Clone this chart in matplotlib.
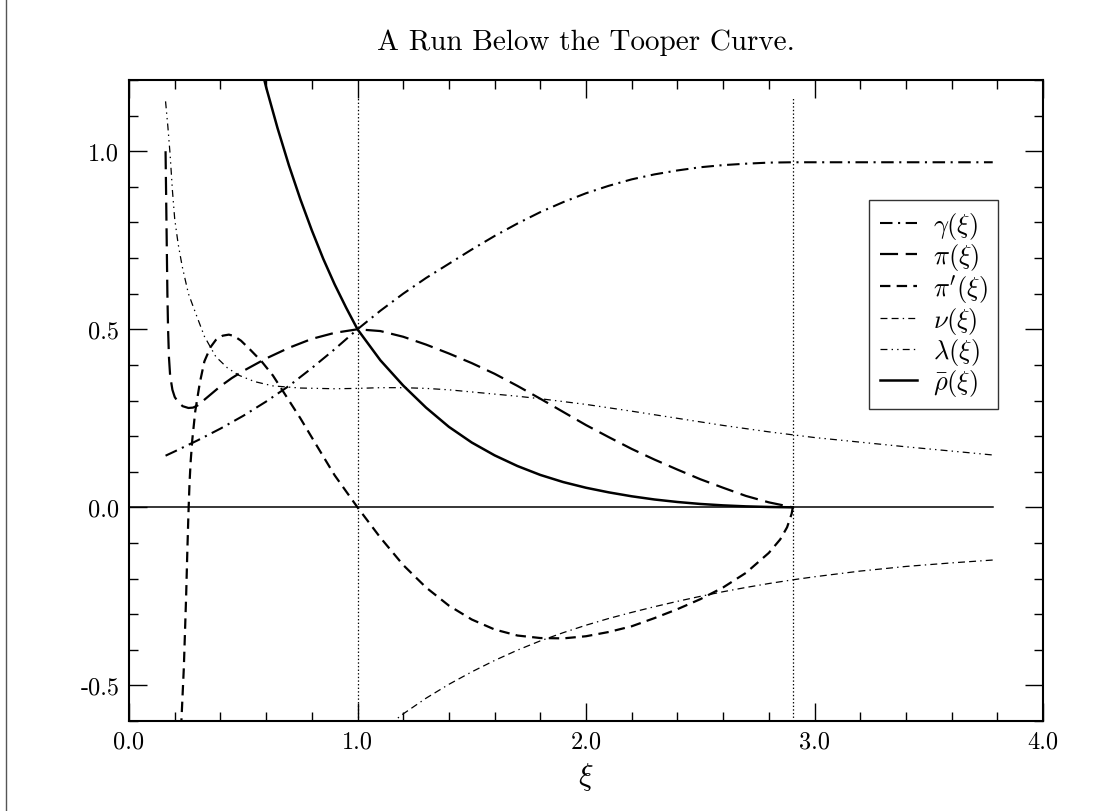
import matplotlib
matplotlib.use("Agg")
import matplotlib.pyplot as plt
from matplotlib.lines import Line2D
from matplotlib.ticker import MultipleLocator, FormatStrFormatter

plt.rcParams['font.family'] = ['cmr10', 'DejaVu Serif']
plt.rcParams['mathtext.fontset'] = 'cm'
plt.rcParams['axes.unicode_minus'] = False
plt.rcParams['lines.scale_dashes'] = False

# ---- data -------------------------------------------------------------
title = "A Run Below the Tooper Curve."
xlabel = r"$\xi$"
x_ticks = [0.0, 1.0, 2.0, 3.0, 4.0]
y_ticks = [-0.5, 0.0, 0.5, 1.0]

labels = [r"$\gamma(\xi)$", r"$\pi(\xi)$", r"$\pi'(\xi)$",
          r"$\nu(\xi)$", r"$\lambda(\xi)$", r"$\bar{\rho}(\xi)$"]

xi_gamma = [0.16, 0.2, 0.3, 0.4, 0.5, 0.6, 0.7, 0.8, 0.9, 1.0, 1.1, 1.2, 1.3,
            1.4, 1.5, 1.6, 1.7, 1.8, 1.9, 2.0, 2.1, 2.2, 2.3, 2.4, 2.5, 2.6,
            2.7, 2.8, 2.905, 3.78]
gamma = [0.145, 0.157, 0.188, 0.221, 0.257, 0.297, 0.341, 0.391, 0.444, 0.500,
         0.552, 0.600, 0.644, 0.684, 0.724, 0.762, 0.797, 0.829, 0.857, 0.882,
         0.903, 0.921, 0.935, 0.946, 0.955, 0.961, 0.965, 0.968, 0.969, 0.969]

xi_pi = [0.160, 0.162, 0.164, 0.166, 0.168, 0.171, 0.175, 0.180, 0.190, 0.200,
         0.215, 0.235, 0.26, 0.28, 0.30, 0.35, 0.40, 0.45, 0.50, 0.6, 0.7,
         0.8, 0.9, 1.0, 1.1, 1.2, 1.3, 1.4, 1.5, 1.6, 1.7, 1.8, 1.9, 2.0,
         2.1, 2.2, 2.3, 2.4, 2.5, 2.6, 2.7, 2.8, 2.905]
pi = [1.000, 0.90, 0.80, 0.70, 0.60, 0.50, 0.42, 0.37, 0.33, 0.31,
      0.295, 0.284, 0.279, 0.280, 0.286, 0.313, 0.340, 0.363, 0.383, 0.418,
      0.448, 0.473, 0.490, 0.500, 0.495, 0.479, 0.457, 0.432, 0.405, 0.375,
      0.341, 0.305, 0.268, 0.231, 0.197, 0.164, 0.134, 0.106, 0.079, 0.055,
      0.032, 0.014, 0.0]

xi_dpi = [0.212, 0.222, 0.230, 0.240, 0.250, 0.255, 0.260, 0.265, 0.270,
          0.277, 0.29, 0.31, 0.33, 0.357, 0.38, 0.41, 0.437, 0.46, 0.49,
          0.53, 0.58, 0.63, 0.69, 0.75, 0.82, 0.9, 1.0, 1.1, 1.2, 1.3, 1.4,
          1.5, 1.6, 1.7, 1.8, 1.9, 2.0, 2.1, 2.2, 2.3, 2.4, 2.5, 2.6, 2.7,
          2.8, 2.85, 2.88, 2.9, 2.905]
dpi_ = [-1.0, -0.70, -0.59, -0.45, -0.25, -0.13, -0.02, 0.07, 0.13,
        0.19, 0.27, 0.35, 0.41, 0.450, 0.470, 0.482, 0.485, 0.481, 0.468,
        0.443, 0.410, 0.37, 0.31, 0.25, 0.175, 0.09, 0.0, -0.085, -0.162,
        -0.225, -0.276, -0.315, -0.343, -0.360, -0.367, -0.368, -0.362,
        -0.350, -0.334, -0.311, -0.286, -0.258, -0.225, -0.184, -0.128,
        -0.090, -0.056, -0.018, 0.0]

xi_nu = [1.10, 1.2, 1.3, 1.4, 1.5, 1.6, 1.7, 1.8, 1.9, 2.0, 2.1, 2.2,
         2.3, 2.4, 2.5, 2.6, 2.7, 2.8, 2.9, 3.0, 3.2, 3.4, 3.6, 3.78]
nu = [-0.630, -0.580, -0.536, -0.497, -0.462, -0.430, -0.401, -0.375, -0.352,
      -0.331, -0.312, -0.295, -0.279, -0.264, -0.250, -0.237, -0.225, -0.214,
      -0.204, -0.195, -0.179, -0.166, -0.156, -0.148]

xi_lam = [0.160, 0.170, 0.180, 0.190, 0.200, 0.215, 0.233, 0.26, 0.29, 0.33,
          0.38, 0.43, 0.48, 0.55, 0.63, 0.75, 0.9, 1.0, 1.1, 1.2, 1.3, 1.4,
          1.5, 1.6, 1.7, 1.8, 2.0, 2.2, 2.4, 2.6, 2.8, 3.0, 3.2, 3.4, 3.6,
          3.78]
lam = [1.14, 1.07, 0.99, 0.89, 0.81, 0.74, 0.676, 0.60, 0.548, 0.48,
       0.423, 0.392, 0.371, 0.353, 0.341, 0.335, 0.333, 0.334, 0.336, 0.336,
       0.334, 0.330, 0.324, 0.318, 0.312, 0.305, 0.289, 0.270, 0.250, 0.230,
       0.212, 0.196, 0.183, 0.170, 0.158, 0.147]

xi_rho = [0.55, 0.6, 0.65, 0.7, 0.75, 0.8, 0.85, 0.9, 0.95, 1.0, 1.1,
          1.2, 1.3, 1.4, 1.5, 1.6, 1.7, 1.8, 1.9, 2.0, 2.1, 2.2, 2.3, 2.4,
          2.5, 2.6, 2.7, 2.8, 2.905]
rho_bar = [1.31, 1.18, 1.065, 0.960, 0.865, 0.778, 0.698, 0.626, 0.561, 0.500,
           0.413, 0.342, 0.280, 0.226, 0.182, 0.146, 0.116, 0.091, 0.071,
           0.055, 0.042, 0.031, 0.022, 0.015, 0.0095, 0.0055, 0.0027, 0.001,
           0.0]

zero_span = [0.0, 3.78]
marker_xi = [1.0, 2.905]
marker_span = [-0.6, 1.15]

# ---- figure -----------------------------------------------------------
fig = plt.figure(figsize=(11.2, 8.12), dpi=100)
ax = fig.add_axes([129 / 1120, 90 / 812, 914 / 1120, 641 / 812])

ax.plot(zero_span, [0, 0], color='black', lw=1.1)
for xv in marker_xi:
    ax.plot([xv, xv], marker_span, color='black', lw=0.9,
            linestyle=(0, (1.0, 1.6)))

ax.plot(xi_gamma, gamma, color='black', lw=1.5,
        linestyle=(0, (9, 4, 1.5, 4)), label=labels[0])
ax.plot(xi_pi, pi, color='black', lw=1.6,
        linestyle=(0, (13, 5.5)), label=labels[1])
ax.plot(xi_dpi, dpi_, color='black', lw=1.6,
        linestyle=(0, (7.5, 4.5)), label=labels[2])
ax.plot(xi_nu, nu, color='black', lw=0.9,
        linestyle=(0, (5, 3, 5, 3, 1, 3)), label=labels[3])
ax.plot(xi_lam, lam, color='black', lw=0.9,
        linestyle=(0, (5, 3, 1, 3, 1, 3)), label=labels[4])
ax.plot(xi_rho, rho_bar, color='black', lw=1.8, label=labels[5])

ax.set_xlim(0, 4)
ax.set_ylim(-0.6, 1.2)
ax.set_xticks(x_ticks)
ax.set_yticks(y_ticks)
ax.xaxis.set_minor_locator(MultipleLocator(0.2))
ax.yaxis.set_minor_locator(MultipleLocator(0.1))
ax.xaxis.set_major_formatter(FormatStrFormatter('%.1f'))
ax.yaxis.set_major_formatter(FormatStrFormatter('%.1f'))
ax.tick_params(which='both', direction='in', top=True, right=True,
               labelsize=17.5, width=1.0, colors='black')
ax.tick_params(which='major', length=13, pad=7)
ax.tick_params(which='minor', length=6.5)
for sp in ax.spines.values():
    sp.set_linewidth(1.5)

ax.set_title(title, fontsize=21, pad=22)
ax.set_xlabel(xlabel, fontsize=22, labelpad=5)

leg = ax.legend(loc='upper left', bbox_to_anchor=(0.810, 0.813),
                borderaxespad=0, fontsize=19, frameon=True, fancybox=False,
                edgecolor='black', handlelength=1.4, handletextpad=0.6,
                labelspacing=0.0, borderpad=0.4)
leg.get_frame().set_linewidth(1.0)

# page border on the left
fig.add_artist(Line2D([5.5 / 1120, 5.5 / 1120], [0, 1], color='#555555',
                      lw=1.0, transform=fig.transFigure))

fig.savefig('out.png', dpi=100)
